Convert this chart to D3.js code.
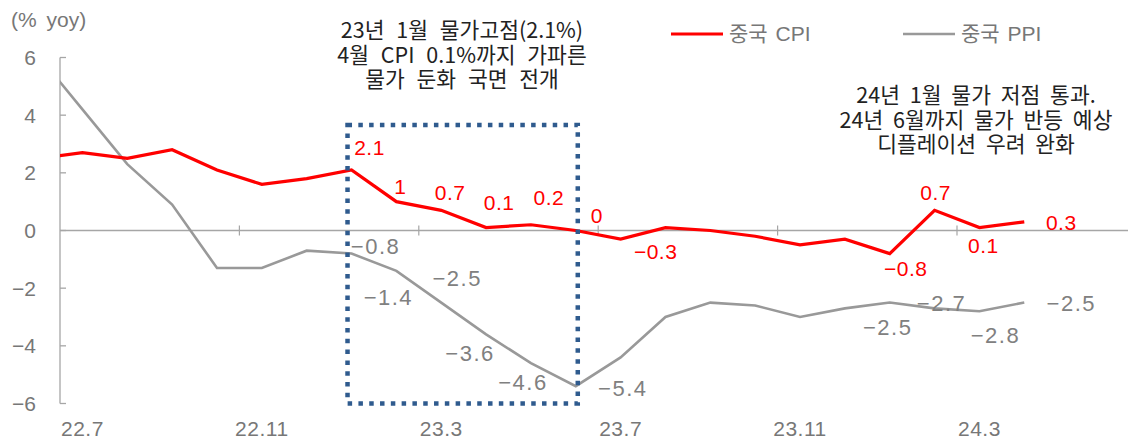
<!DOCTYPE html>
<html>
<head>
<meta charset="utf-8">
<script src="https://cdn.jsdelivr.net/npm/d3@7"></script>
<style>
  html, body { margin: 0; padding: 0; background: #fff; }
  svg text { font-family: "Liberation Sans", "Noto Sans CJK KR", sans-serif; }
  svg text.note { font-family: "Noto Sans CJK KR", sans-serif; }
</style>
</head>
<body>
<div id="chart"></div>
<script>
// months from 22.6 (first point sits left of the axis and gets clipped)
const months = ["22.6","22.7","22.8","22.9","22.10","22.11","22.12","23.1","23.2","23.3","23.4","23.5","23.6",
                "23.7","23.8","23.9","23.10","23.11","23.12","24.1","24.2","24.3","24.4"];
const cpi = [2.5, 2.7, 2.5, 2.8, 2.1, 1.6, 1.8, 2.1, 1.0, 0.7, 0.1, 0.2, 0.0,
             -0.3, 0.1, 0.0, -0.2, -0.5, -0.3, -0.8, 0.7, 0.1, 0.3];
const ppi = [6.1, 4.2, 2.3, 0.9, -1.3, -1.3, -0.7, -0.8, -1.4, -2.5, -3.6, -4.6, -5.4,
             -4.4, -3.0, -2.5, -2.6, -3.0, -2.7, -2.5, -2.7, -2.8, -2.5];
const yTicks = [6, 4, 2, 0, -2, -4, -6];
const xTickLabels = ["22.7", "22.11", "23.3", "23.7", "23.11", "24.3"];
const seriesNames = ["중국 CPI", "중국 PPI"];

// which months get a value label
const cpiLabelMonths = ["23.1","23.2","23.3","23.4","23.5","23.6","23.7","24.1","24.2","24.3","24.4"];
const ppiLabelMonths = ["23.1","23.2","23.3","23.4","23.5","23.6","24.1","24.2","24.3","24.4"];

const noteLeft = ["23년 1월 물가고점(2.1%)", "4월 CPI 0.1%까지 가파른", "물가 둔화 국면 전개"];
const noteRight = ["24년 1월 물가 저점 통과.", "24년 6월까지 물가 반등 예상", "디플레이션 우려 완화"];

// label placement (pixel offsets from the point), same order as the label months
const cpiOff = [[18,-22],[4,-15],[9,-18],[13,-25],[18,-27],[21,-15],[35,12],[16,15],[1,-18],[4,18],[37,1]];
const ppiOff = [[24,-7],[-8,27],[16,-24],[-16,19],[-8,19],[47,2],[-2,25],[7,-5],[16,24],[47,1]];

const width = 1128, height = 440;
const step = 44.85;
const left = 60;

const svg = d3.select("#chart").append("svg")
    .attr("width", width)
    .attr("height", height);

const x = d3.scaleLinear().domain([0.5, 24]).range([left, left + 23.5 * step]);
const y = d3.scaleLinear().domain([-6, 6]).range([403.5, 57.5]);

const fmt = v => String(v).replace("-", "\u2212");

// y axis
const axisColor = "#a6a6a6";
svg.append("line")
    .attr("x1", left).attr("x2", left)
    .attr("y1", y(6)).attr("y2", y(-6))
    .attr("stroke", axisColor).attr("stroke-width", 1.3);
svg.selectAll(".ytick").data(yTicks).enter().append("line")
    .attr("x1", left).attr("x2", left + 6)
    .attr("y1", d => y(d)).attr("y2", d => y(d))
    .attr("stroke", axisColor).attr("stroke-width", 1.3);
svg.selectAll(".ylab").data(yTicks).enter().append("text")
    .attr("x", 36)
    .attr("y", d => y(d) + 7.5)
    .attr("text-anchor", "end")
    .attr("font-size", 21)
    .attr("fill", "#777")
    .text(d => fmt(d));

svg.append("text")
    .attr("x", 11).attr("y", 27)
    .attr("font-size", 21)
    .attr("word-spacing", 4)
    .attr("fill", "#777")
    .text("(% yoy)");

// zero line + category ticks
svg.append("line")
    .attr("x1", left).attr("x2", width)
    .attr("y1", y(0)).attr("y2", y(0))
    .attr("stroke", axisColor).attr("stroke-width", 1.6);
const tickIdx = xTickLabels.map(l => months.indexOf(l));
svg.selectAll(".xtick").data(tickIdx.slice(1)).enter().append("line")
    .attr("x1", d => x(d - 0.5)).attr("x2", d => x(d - 0.5))
    .attr("y1", y(0) - 5).attr("y2", y(0) + 5)
    .attr("stroke", axisColor).attr("stroke-width", 1.2);
svg.selectAll(".xlab").data(xTickLabels).enter().append("text")
    .attr("x", d => x(months.indexOf(d)))
    .attr("y", 436)
    .attr("text-anchor", "middle")
    .attr("font-size", 21)
    .attr("letter-spacing", 0.5)
    .attr("fill", "#777")
    .text(d => d);

// lines, clipped at the axis
svg.append("clipPath").attr("id", "plot")
    .append("rect").attr("x", left).attr("y", 0).attr("width", width - left).attr("height", height);

const line = d3.line().x((d, i) => x(i)).y(d => y(d));

svg.append("path")
    .datum(ppi)
    .attr("clip-path", "url(#plot)")
    .attr("d", line)
    .attr("fill", "none")
    .attr("stroke", "#999")
    .attr("stroke-width", 2.6);

svg.append("path")
    .datum(cpi)
    .attr("clip-path", "url(#plot)")
    .attr("d", line)
    .attr("fill", "none")
    .attr("stroke", "#ff0000")
    .attr("stroke-width", 3.2);

// dotted highlight box (23.1 ~ 23.6)
const bx0 = x(months.indexOf("23.1")) - 4, bx1 = x(months.indexOf("23.6")) + 2;
svg.append("rect")
    .attr("x", bx0).attr("y", 125)
    .attr("width", bx1 - bx0).attr("height", y(-6) - 125)
    .attr("fill", "none")
    .attr("stroke", "#2f5b8e")
    .attr("stroke-width", 4.5)
    .attr("stroke-dasharray", "4.5 6.3");

// value labels
svg.selectAll(".cpilab").data(cpiLabelMonths).enter().append("text")
    .attr("x", (d, k) => x(months.indexOf(d)) + cpiOff[k][0])
    .attr("y", (d, k) => y(cpi[months.indexOf(d)]) + cpiOff[k][1] + 7.5)
    .attr("text-anchor", "middle")
    .attr("font-size", 21)
    .attr("letter-spacing", 0.5)
    .attr("fill", "#ff0000")
    .text(d => fmt(cpi[months.indexOf(d)]));

svg.selectAll(".ppilab").data(ppiLabelMonths).enter().append("text")
    .attr("x", (d, k) => x(months.indexOf(d)) + ppiOff[k][0])
    .attr("y", (d, k) => y(ppi[months.indexOf(d)]) + ppiOff[k][1] + 7.5)
    .attr("text-anchor", "middle")
    .attr("font-size", 22)
    .attr("letter-spacing", 1.5)
    .attr("fill", "#808080")
    .text(d => fmt(ppi[months.indexOf(d)]));

// legend
const legend = [
    { name: seriesNames[0], color: "#ff0000", w: 3.2, x: 671 },
    { name: seriesNames[1], color: "#999", w: 2.6, x: 903 }
];
const lg = svg.selectAll(".lg").data(legend).enter().append("g");
lg.append("line")
    .attr("x1", d => d.x).attr("x2", d => d.x + 52)
    .attr("y1", 34).attr("y2", 34)
    .attr("stroke", d => d.color).attr("stroke-width", d => d.w);
lg.append("text")
    .attr("x", d => d.x + 58).attr("y", 41)
    .attr("font-size", 21)
    .attr("word-spacing", 2)
    .attr("fill", "#777")
    .text(d => d.name);

// notes
svg.append("text")
    .attr("class", "note")
    .attr("text-anchor", "middle")
    .attr("font-size", 21.5)
    .attr("word-spacing", 7)
    .attr("fill", "#222")
    .selectAll("tspan").data(noteLeft).enter().append("tspan")
    .attr("x", 462)
    .attr("y", (d, i) => 38 + i * 24.5)
    .text(d => d);

svg.append("text")
    .attr("class", "note")
    .attr("text-anchor", "middle")
    .attr("font-size", 21.5)
    .attr("word-spacing", 5)
    .attr("fill", "#222")
    .selectAll("tspan").data(noteRight).enter().append("tspan")
    .attr("x", 976)
    .attr("y", (d, i) => 103 + i * 24.5)
    .text(d => d);
</script>
</body>
</html>
